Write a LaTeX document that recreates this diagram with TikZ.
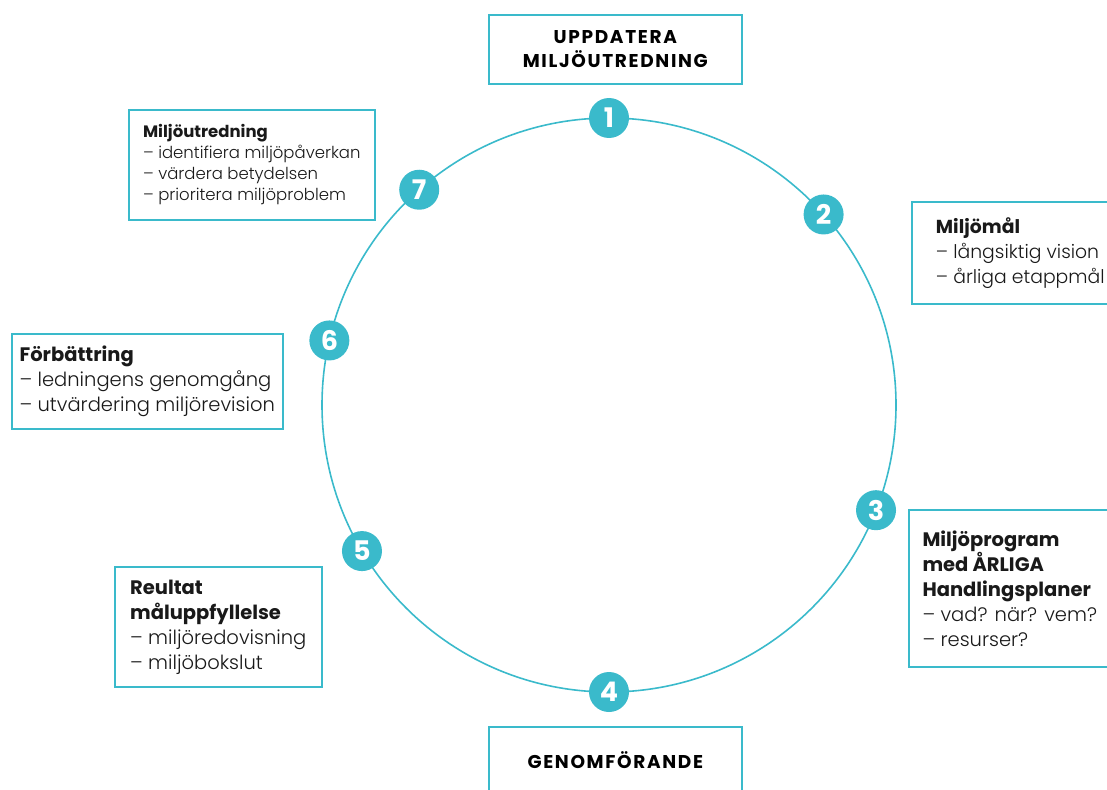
\documentclass[tikz,border=0pt]{standalone}
\usepackage{fontspec}
\setmainfont{Poppins}[UprightFont=* Light, BoldFont=* Bold]
\newfontfamily\numfont{Poppins}[UprightFont=* Bold]
\usetikzlibrary{calc}
\usetikzlibrary{positioning}
\definecolor{cyclecyan}{RGB}{58, 186, 203}

\begin{document}
\begin{tikzpicture}[x=1pt, y=-1pt,
    infobox/.style={draw=cyclecyan, line width=1.6pt, anchor=north west,
                    align=left, inner sep=0pt, text=black!90,
                    font=\fontsize{19.5}{25}\selectfont},
    titlebox/.style={draw=cyclecyan, line width=1.6pt, anchor=north west,
                     align=center, inner sep=0pt, minimum width=253pt,
                     font=\fontsize{18.5}{24}\selectfont\bfseries\addfontfeatures{LetterSpace=9}},
    stepnum/.style={circle, fill=cyclecyan, text=white, inner sep=0pt,
                    minimum size=40pt, font=\numfont\fontsize{27}{27}\selectfont}]
    % Frame
    \useasboundingbox (0,0) rectangle (1107,789);
    \clip (0,0) rectangle (1107,789);
    % Cycle
    \coordinate (ctr) at (609,405);
    \draw[color=cyclecyan, line width=1.6pt] (ctr) circle[radius=287pt];
    % Step numbers
    \node[stepnum] (n1) at ($(ctr)+( 90.0:287pt)$) {1};
    \node[stepnum] (n2) at ($(ctr)+( 41.6:287pt)$) {2};
    \node[stepnum] (n3) at ($(ctr)+(-21.5:287pt)$) {3};
    \node[stepnum] (n4) at ($(ctr)+(-90.0:287pt)$) {4};
    \node[stepnum] (n5) at ($(ctr)+(210.6:287pt)$) {5};
    \node[stepnum] (n6) at ($(ctr)+(167.0:287pt)$) {6};
    \node[stepnum] (n7) at ($(ctr)+(131.4:287pt)$) {7};
    % Top and bottom
    \node[titlebox, minimum height=69pt] (update) at (488,14) {UPPDATERA\\MILJÖUTREDNING};
    \node[titlebox, minimum height=66pt] (execute) at (488,726) {GENOMFÖRANDE};
    % Right side
    \node[infobox, minimum width=217pt, minimum height=102pt,
          font=\fontsize{18.8}{25}\selectfont] (goals) at (911,201)
          {\textbf{Miljömål}\\– långsiktig vision\\– årliga etappmål};
    \node[infobox, minimum width=202pt, minimum height=157pt] (program) at (908,509)
          {\textbf{Miljöprogram}\\\textbf{med ÅRLIGA}\\\textbf{Handlingsplaner}\\– vad? när? vem?\\– resurser?};
    % Left side
    \node[infobox, minimum width=246pt, minimum height=110pt,
          font=\fontsize{16.5}{21}\selectfont] (survey) at (128,109)
          {\textbf{Miljöutredning}\\– identifiera miljöpåverkan\\– värdera betydelsen\\– prioritera miljöproblem};
    \node[infobox, minimum width=271pt, minimum height=95pt] (improve) at (11,333)
          {\textbf{Förbättring}\\– ledningens genomgång\\– utvärdering miljörevision};
    \node[infobox, minimum width=207pt, minimum height=120pt] (result) at (114,566)
          {\textbf{Reultat}\\\textbf{måluppfyllelse}\\– miljöredovisning\\– miljöbokslut};
\end{tikzpicture}
\end{document}
